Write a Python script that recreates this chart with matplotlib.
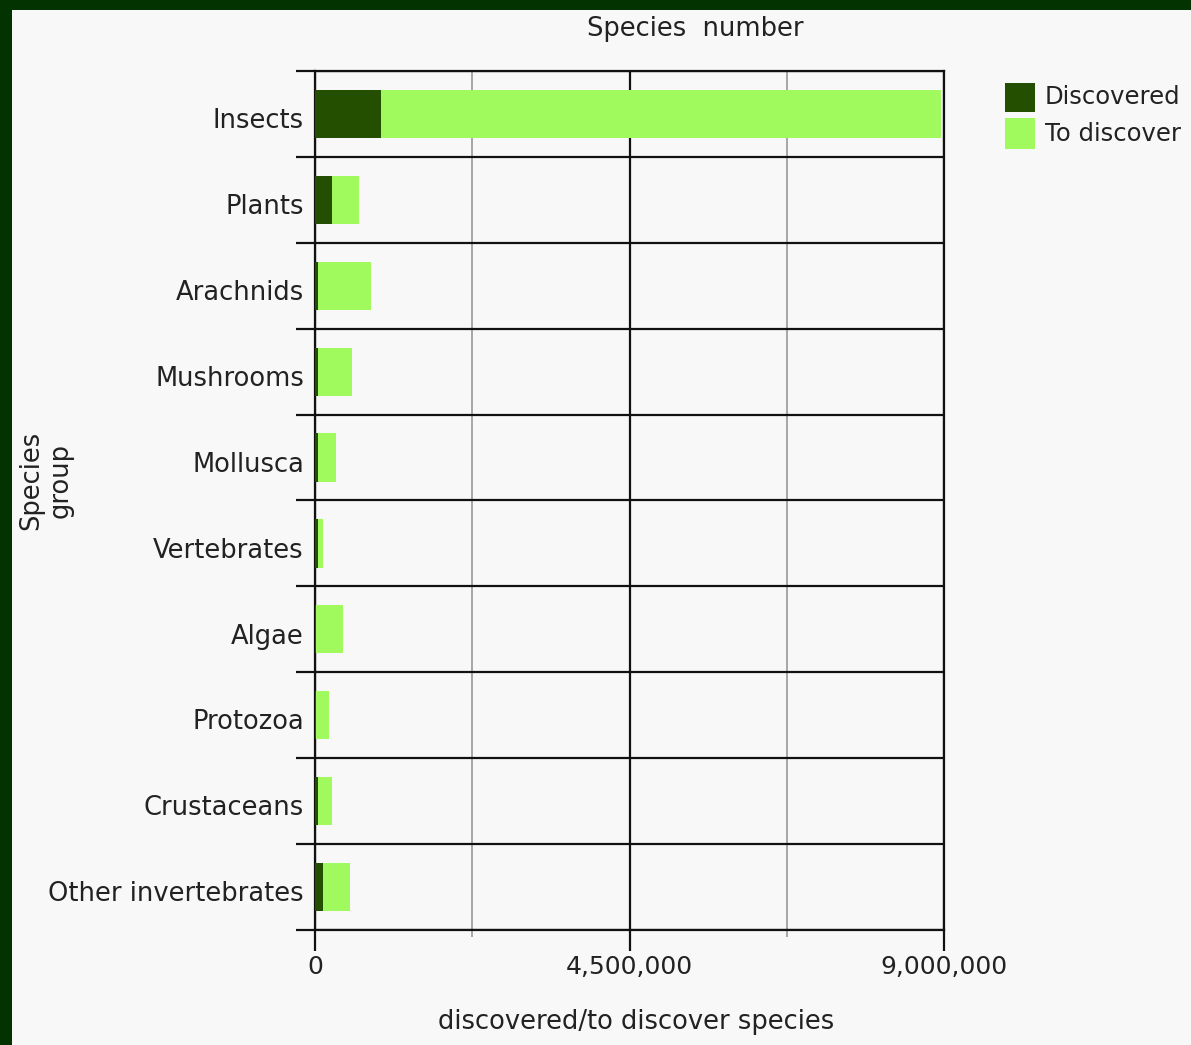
import matplotlib
matplotlib.use("Agg")
import matplotlib.pyplot as plt
from matplotlib.patches import Rectangle
from matplotlib.ticker import FixedLocator, StrMethodFormatter
from matplotlib.transforms import ScaledTranslation
import numpy as np

groups = ["Insects", "Plants", "Arachnids", "Mushrooms", "Mollusca",
          "Vertebrates", "Algae", "Protozoa", "Crustaceans", "Other invertebrates"]
discovered = [950000, 250000, 45000, 45000, 45000, 45000, 15000, 15000, 40000, 110000]
to_discover = [8000000, 385000, 750000, 490000, 255000, 65000, 390000, 190000, 200000, 390000]

dark = "#244f00"
light = "#a0f95d"
border = "#033300"
bg = "#f8f8f8"

plt.rcParams['font.family'] = ['DejaVu Sans']
fig = plt.figure(figsize=(11.91, 10.45), dpi=100, facecolor=border)
fig.patches.append(Rectangle((12/1191, 0), 1 - 12/1191, 1 - 10/1045,
                             transform=fig.transFigure, facecolor=bg,
                             edgecolor='none', zorder=-10))

ax = fig.add_axes([315/1191, 115/1045, 629/1191, 859/1045])
ax.set_facecolor(bg)

y = np.arange(len(groups))
ax.barh(y, discovered, height=0.56, color=dark, label='Discovered', zorder=3)
ax.barh(y, to_discover, left=discovered, height=0.56, color=light,
        label='To discover', zorder=3)

ax.set_xlim(0, 9000000)
ax.set_ylim(len(groups) - 0.5, -0.5)

# x grid: black at major ticks, gray at midpoints
ax.xaxis.set_major_locator(FixedLocator([0, 4500000, 9000000]))
ax.xaxis.set_minor_locator(FixedLocator([2250000, 6750000]))
ax.xaxis.set_major_formatter(StrMethodFormatter('{x:,.0f}'))
ax.grid(axis='x', which='major', color='#111111', linewidth=1.6, zorder=1)
ax.grid(axis='x', which='minor', color='#999999', linewidth=1.2, zorder=1)
ax.tick_params(axis='x', which='major', length=15, width=1.6, color='#111111',
               labelsize=18, labelcolor='#222222', pad=3)
ax.tick_params(axis='x', which='minor', length=5, width=1.2, color='#999999')

# y: separators at boundaries, labels centred on rows
ax.yaxis.set_major_locator(FixedLocator(np.arange(len(groups) + 1) - 0.5))
ax.yaxis.set_minor_locator(FixedLocator(y))
ax.yaxis.set_major_formatter(plt.NullFormatter())
ax.set_yticks(y, groups, minor=True)
ax.grid(axis='y', which='major', color='#111111', linewidth=1.6, zorder=1)
ax.tick_params(axis='y', which='major', length=14, width=1.6, color='#111111')
ax.tick_params(axis='y', which='minor', length=0, labelsize=18.5,
               labelcolor='#222222', pad=8)
shift = ScaledTranslation(0, -3/72, fig.dpi_scale_trans)
for lbl in ax.get_yticklabels(minor=True):
    lbl.set_va('center_baseline')
    lbl.set_transform(lbl.get_transform() + shift)

for s in ax.spines.values():
    s.set_color('#111111')
    s.set_linewidth(1.6)

fig.text(695/1191, 1 - 29/1045, "Species  number", ha='center', va='center',
         fontsize=18.5, color='#222222')
fig.text(636/1191, 1 - 1022/1045, "discovered/to discover species", ha='center',
         va='center', fontsize=18.5, color='#222222')
fig.text(46/1191, 1 - 480/1045, "Species\ngroup", ha='center', va='center',
         rotation=90, fontsize=18.5, color='#222222', linespacing=1.2)

# legend at the right edge
fig.patches.append(Rectangle((1005/1191, 1 - 112/1045), 30/1191, 29/1045,
                             transform=fig.transFigure, facecolor=dark, edgecolor='none'))
fig.patches.append(Rectangle((1005/1191, 1 - 149/1045), 30/1191, 31/1045,
                             transform=fig.transFigure, facecolor=light, edgecolor='none'))
fig.text(1045/1191, 1 - 97/1045, "Discovered", va='center', fontsize=17.5, color='#222222')
fig.text(1045/1191, 1 - 134/1045, "To discover", va='center', fontsize=17.5, color='#222222')

fig.savefig("out.png", dpi=100, facecolor=border)
